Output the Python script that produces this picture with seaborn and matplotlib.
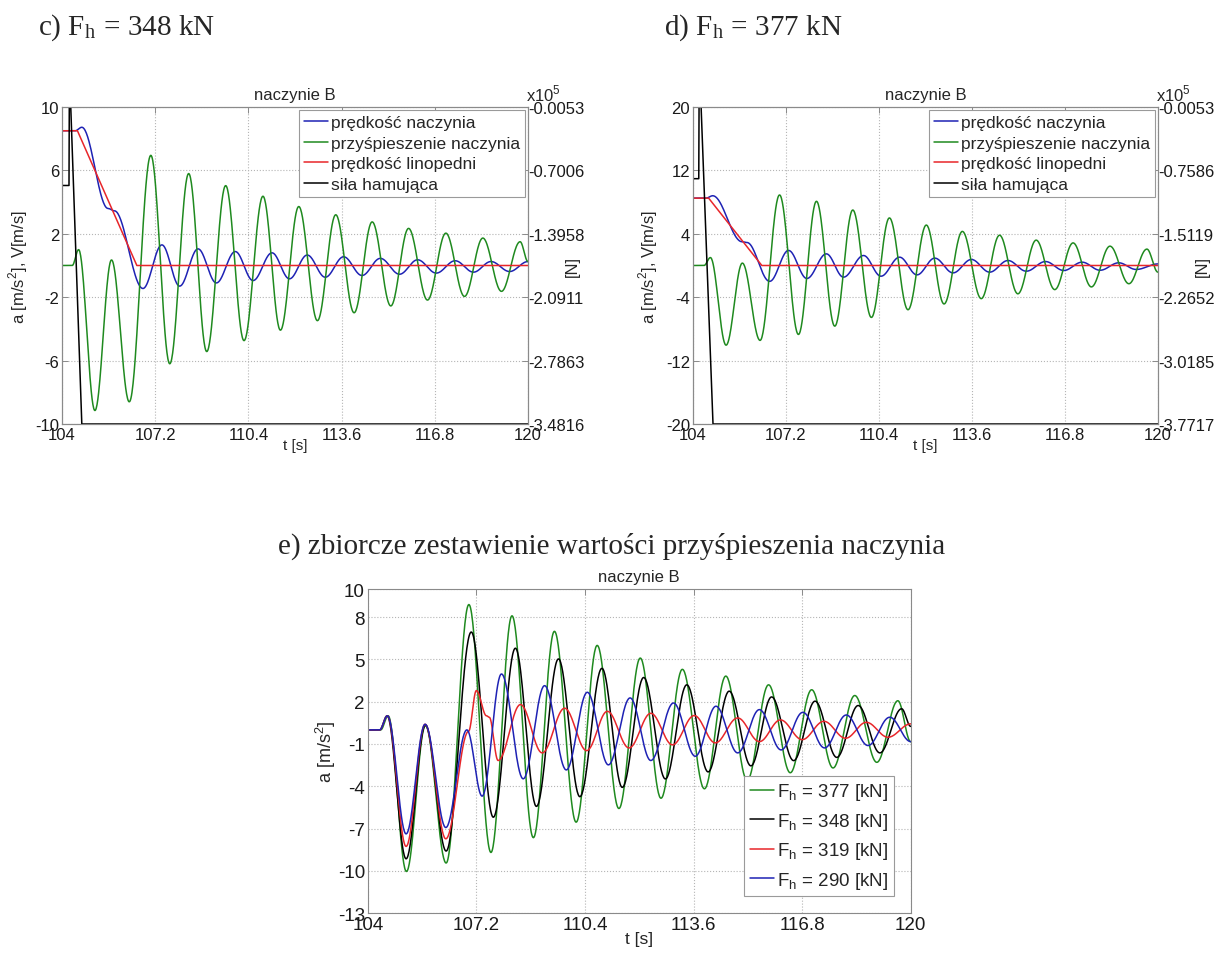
import matplotlib
matplotlib.use("Agg")
import matplotlib.pyplot as plt
import numpy as np
import pandas as pd
import seaborn as sns

# ---- values: time / value of every turning point ----
# vessel acceleration, F_h = 348 kN (panel c, black curve of panel e)
acc_348_t = [104.0, 104.35, 104.57, 105.13, 105.7, 106.31, 107.05, 107.7, 108.35, 108.97,
             109.62, 110.25, 110.9, 111.5, 112.13, 112.77, 113.4, 114.03, 114.65, 115.29,
             115.9, 116.55, 117.18, 117.82, 118.45, 119.09, 119.73, 120.0]
acc_348_v = [0.0, 0.0, 1.0, -9.15, 0.35, -8.6, 6.95, -6.2, 5.8, -5.43,
             5.04, -4.74, 4.37, -4.08, 3.72, -3.48, 3.2, -2.98, 2.75, -2.55,
             2.34, -2.18, 2.04, -1.95, 1.73, -1.63, 1.5, 0.25]

# vessel acceleration, F_h = 377 kN (panel d, green curve of panel e)
acc_377_t = [104.0, 104.38, 104.6, 105.14, 105.7, 106.31, 106.98, 107.63, 108.25, 108.88,
             109.5, 110.14, 110.76, 111.4, 112.03, 112.64, 113.27, 113.92, 114.55, 115.18,
             115.81, 116.45, 117.08, 117.71, 118.35, 119.0, 119.62, 120.0]
acc_377_v = [0.0, 0.0, 1.0, -10.05, 0.3, -9.45, 8.9, -8.7, 8.1, -7.65,
             7.0, -6.55, 6.0, -5.58, 5.1, -4.85, 4.3, -4.18, 3.82, -3.57,
             3.2, -3.04, 2.85, -2.7, 2.44, -2.3, 2.07, -0.84]

# vessel acceleration, F_h = 319 kN (panel e)
acc_319_t = [104.0, 104.35, 104.58, 105.13, 105.69, 106.3, 106.97, 107.2, 107.5, 107.58,
             107.84, 108.5, 109.14, 109.8, 110.45, 111.06, 111.7, 112.34, 112.98, 113.62,
             114.24, 114.9, 115.54, 116.16, 116.8, 117.44, 118.08, 118.69, 119.33, 120.0]
acc_319_v = [0.0, 0.0, 1.0, -8.27, 0.4, -7.73, -0.1, 2.79, 1.0, 0.9,
             -2.17, 1.8, -1.63, 1.54, -1.47, 1.32, -1.28, 1.18, -1.06, 1.02,
             -0.92, 0.85, -0.83, 0.71, -0.69, 0.61, -0.59, 0.54, -0.52, 0.43]

# vessel acceleration, F_h = 290 kN (panel e)
acc_290_t = [104.0, 104.35, 104.58, 105.13, 105.69, 106.3, 106.92, 107.37, 107.94, 108.58,
             109.21, 109.85, 110.47, 111.09, 111.73, 112.34, 113.01, 113.65, 114.26, 114.9,
             115.54, 116.18, 116.82, 117.46, 118.1, 118.74, 119.38, 120.0]
acc_290_v = [0.0, 0.0, 1.0, -7.38, 0.4, -6.93, 0.0, -4.7, 3.97, -3.47,
             3.14, -2.84, 2.67, -2.48, 2.27, -2.17, 1.91, -1.87, 1.68, -1.63,
             1.44, -1.42, 1.25, -1.28, 1.06, -1.11, 0.9, -0.83]

# vessel speed, panel c
vel_c_t = [104.0, 104.45, 104.68, 105.58, 105.8, 106.78, 107.43, 108.04, 108.67, 109.3,
           109.95, 110.56, 111.21, 111.81, 112.42, 113.04, 113.67, 114.3, 114.93, 115.59,
           116.21, 116.85, 117.5, 118.13, 118.73, 119.37, 120.0]
vel_c_v = [8.5, 8.5, 8.72, 3.6, 3.45, -1.45, 1.3, -1.3, 1.05, -1.1,
           0.88, -0.95, 0.8, -0.84, 0.66, -0.74, 0.55, -0.63, 0.45, -0.55,
           0.36, -0.48, 0.3, -0.42, 0.25, -0.38, 0.25]

# vessel speed, panel d
vel_d_t = [104.0, 104.45, 104.68, 105.69, 105.86, 106.64, 107.29, 107.92, 108.59, 109.18,
           109.87, 110.47, 111.11, 111.71, 112.32, 112.95, 113.58, 114.21, 114.84, 115.47,
           116.13, 116.76, 117.39, 118.01, 118.65, 119.25, 120.0]
vel_d_v = [8.5, 8.5, 8.8, 3.0, 2.9, -2.0, 1.9, -1.64, 1.47, -1.47,
           1.26, -1.35, 1.05, -1.18, 0.93, -0.93, 0.76, -0.84, 0.63, -0.72,
           0.5, -0.63, 0.42, -0.6, 0.34, -0.5, 0.2]

# rope speed (straight segments)
rope_c_t = [104.0, 104.53, 106.57, 120.0]
rope_c_v = [8.5, 8.5, 0.0, 0.0]
rope_d_t = [104.0, 104.54, 106.37, 120.0]
rope_d_v = [8.5, 8.5, 0.0, 0.0]

# braking force [x1e5 N] (straight segments)
force_c_t = [104.0, 104.24, 104.25, 104.3, 104.68, 120.0]
force_c_v = [-0.866, -0.866, 0.0, 0.0, -3.4816, -3.4816]
force_d_t = [104.0, 104.2, 104.21, 104.28, 104.69, 120.0]
force_d_v = [-0.857, -0.857, 0.0, 0.0, -3.7717, -3.7717]

x_ticks = [104, 107.2, 110.4, 113.6, 116.8, 120]
x_labels = ["104", "107.2", "110.4", "113.6", "116.8", "120"]
yticks_c = [-10, -6, -2, 2, 6, 10]
rticks_c = [-3.4816, -2.7863, -2.0911, -1.3958, -0.7006, -0.0053]
yticks_d = [-20, -12, -4, 4, 12, 20]
rticks_d = [-3.7717, -3.0185, -2.2652, -1.5119, -0.7586, -0.0053]
yticks_e = [-13, -10, -7, -4, -1, 2, 5, 8, 10]

names_top = ["prędkość naczynia", "przyśpieszenie naczynia", "prędkość linopedni", "siła hamująca"]
names_e = [r"F$_\mathregular{h}$ = 377 [kN]", r"F$_\mathregular{h}$ = 348 [kN]",
           r"F$_\mathregular{h}$ = 319 [kN]", r"F$_\mathregular{h}$ = 290 [kN]"]

BLUE = "#1e22b4"
GREEN = "#1f8a1f"
RED = "#e8262a"
BLACK = "#000000"
SPINE = "#8a8a8a"

sns.set_theme(style="white")
plt.rcParams["font.family"] = ["Liberation Sans", "DejaVu Sans"]
plt.rcParams["mathtext.fontset"] = "custom"
plt.rcParams["mathtext.rm"] = "Liberation Sans"


def smooth_trace(t_keys, v_keys, n=40):
    # round the trace between the read turning points (half cosine)
    ts, vs = [], []
    s = np.linspace(0, 1, n, endpoint=False)
    w = (1 - np.cos(np.pi * s)) / 2
    for i in range(len(t_keys) - 1):
        ts.extend(t_keys[i] + (t_keys[i + 1] - t_keys[i]) * s)
        vs.extend(v_keys[i] + (v_keys[i + 1] - v_keys[i]) * w)
    ts.append(t_keys[-1])
    vs.append(v_keys[-1])
    return pd.DataFrame({"t": ts, "v": vs})


def straight_trace(t_keys, v_keys):
    return pd.DataFrame({"t": t_keys, "v": v_keys})


def line(ax, df, color):
    sns.lineplot(data=df, x="t", y="v", ax=ax, color=color, lw=1.1,
                 sort=False, estimator=None, legend=False)
    return ax.get_lines()[-1]


def style_axes(ax, yticks, fs, xpad):
    ax.set_xlim(104, 120)
    ax.set_ylim(yticks[0], yticks[-1])
    ax.set_xticks(x_ticks)
    ax.set_xticklabels(x_labels)
    ax.set_yticks(yticks)
    ax.set_yticklabels([str(v) for v in yticks])
    ax.grid(True, linestyle=":", color="#b5b5b5", lw=0.8)
    ax.tick_params(direction="in", length=4, width=0.7, colors=SPINE,
                   labelcolor="#1a1a1a", labelsize=fs, pad=2, top=True)
    for sp in ax.spines.values():
        sp.set_color(SPINE)
        sp.set_linewidth(0.8)
    ax.set_xlabel("t [s]", fontsize=fs - 1, labelpad=xpad)
    ax.set_title("naczynie B", fontsize=12, pad=6)


def draw_top(rect, vel, acc, rope, force, yticks, rticks):
    ax = fig.add_axes(rect)
    h1 = line(ax, smooth_trace(*vel), BLUE)
    h2 = line(ax, smooth_trace(*acc), GREEN)
    h3 = line(ax, straight_trace(*rope), RED)
    style_axes(ax, yticks, 12, -3)
    ax.set_ylabel(r"a [m/s$^2$], V[m/s]", fontsize=12, labelpad=4)

    ax2 = ax.twinx()
    h4 = line(ax2, straight_trace(*force), BLACK)
    ax2.set_ylim(rticks[0], rticks[-1])
    ax2.set_yticks(rticks)
    ax2.set_yticklabels([f"{v:.4f}" for v in rticks])
    ax2.tick_params(direction="in", length=4, width=0.7, colors=SPINE,
                    labelcolor="#1a1a1a", labelsize=12, pad=0.5)
    for sp in ax2.spines.values():
        sp.set_color(SPINE)
        sp.set_linewidth(0.8)
    ax2.set_xlabel("")
    ax2.set_ylabel("[N]", fontsize=12, rotation=90)
    # the unit sits between the tick labels, as in the original
    ax2.yaxis.set_label_coords(1.08, 0.5)
    ax2.text(0.995, 1.012, r"x10$^5$", transform=ax2.transAxes, ha="left",
             va="bottom", fontsize=12)
    leg = ax2.legend([h1, h2, h3, h4], names_top, loc="upper right",
                     fontsize=12.5, frameon=True, fancybox=False, handlelength=1.4,
                     handletextpad=0.15, borderpad=0.3, labelspacing=0.32,
                     borderaxespad=0.15, framealpha=1)
    leg.get_frame().set_edgecolor("#9a9a9a")
    leg.get_frame().set_linewidth(0.8)


fig = plt.figure(figsize=(12.23, 9.54), dpi=100)

draw_top([0.0507, 0.5545, 0.381, 0.3323],
         (vel_c_t, vel_c_v), (acc_348_t, acc_348_v), (rope_c_t, rope_c_v),
         (force_c_t, force_c_v), yticks_c, rticks_c)
draw_top([0.5666, 0.5545, 0.3802, 0.3323],
         (vel_d_t, vel_d_v), (acc_377_t, acc_377_v), (rope_d_t, rope_d_v),
         (force_d_t, force_d_v), yticks_d, rticks_d)

axe = fig.add_axes([0.3007, 0.0419, 0.444, 0.3396])
he = [line(axe, smooth_trace(acc_377_t, acc_377_v), GREEN),
      line(axe, smooth_trace(acc_348_t, acc_348_v), BLACK),
      line(axe, smooth_trace(acc_319_t, acc_319_v), RED),
      line(axe, smooth_trace(acc_290_t, acc_290_v), BLUE)]
style_axes(axe, yticks_e, 13.5, -1)
axe.set_ylabel(r"a [m/s$^2$]", fontsize=13, labelpad=0)
leg = axe.legend(he, names_e, loc="lower right", fontsize=13.5, frameon=True,
                 fancybox=False, handlelength=1.3, handletextpad=0.15,
                 borderpad=0.3, labelspacing=0.45, borderaxespad=0.9, framealpha=1)
leg.get_frame().set_edgecolor("#9a9a9a")
leg.get_frame().set_linewidth(0.8)

serif = ["Liberation Serif", "DejaVu Serif"]
fig.text(0.031, 0.964, r"c) F$_\mathregular{h}$ = 348 kN", family=serif, fontsize=21,
         va="baseline", math_fontfamily="stix")
fig.text(0.543, 0.964, r"d) F$_\mathregular{h}$ = 377 kN", family=serif, fontsize=21,
         va="baseline", math_fontfamily="stix")
fig.text(0.5, 0.42, "e) zbiorcze zestawienie wartości przyśpieszenia naczynia",
         family=serif, fontsize=21, ha="center", va="baseline")

fig.savefig("out.png", dpi=100)
